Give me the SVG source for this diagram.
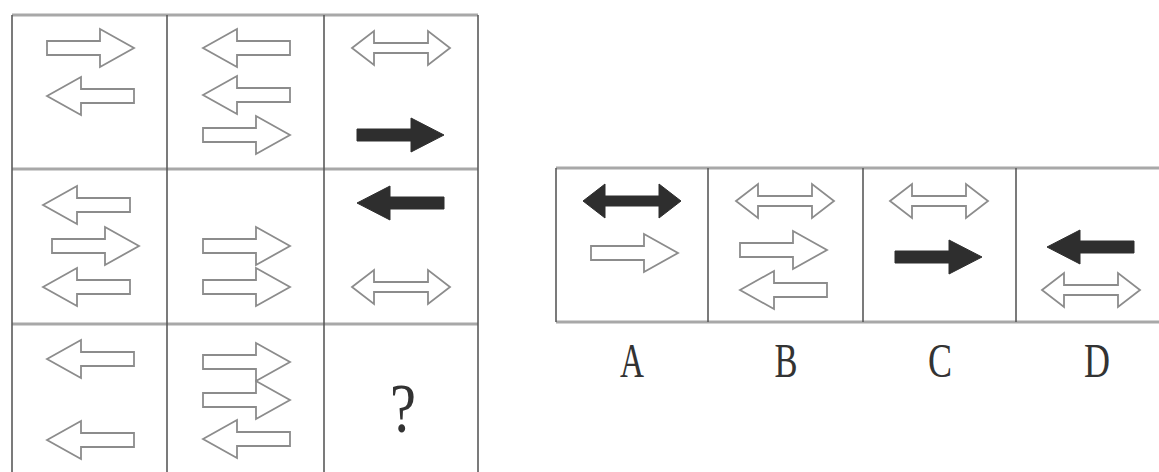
<svg xmlns="http://www.w3.org/2000/svg" xmlns:xlink="http://www.w3.org/1999/xlink" width="1159" height="472" viewBox="0 0 1159 472">
<style>
.ho{fill:#ffffff;stroke:#8c8c8c;stroke-width:1.8;stroke-linejoin:miter}
.bk{fill:#2e2e2e;stroke:#2e2e2e;stroke-width:1}
.vl{stroke:#5a5a5a;stroke-width:1.6;fill:none}
.hl{stroke:#a8a8a8;stroke-width:3;fill:none}
.lbl{font-family:"Liberation Serif","Times New Roman",serif;fill:#333;text-anchor:middle}
</style>
<defs>
<path id="r" d="M0,-7 H53 V-19 L87,0 L53,19 V7 H0 Z"/>
<path id="l" d="M0,0 L34,-19 V-7 H87 V7 H34 V19 Z"/>
<path id="rb" d="M0,-6 H54 V-17 L87,0 L54,17 V6 H0 Z"/>
<path id="lb" d="M0,0 L33,-17 V-6 H87 V6 H33 V17 Z"/>
<path id="d" d="M0,0 L22,-17 V-5 H76 V-17 L98,0 L76,17 V5 H22 V17 Z"/>
</defs>
<rect width="1159" height="472" fill="#ffffff"/>
<g id="grid">
<line class="hl" x1="12" y1="15" x2="478" y2="15"/>
<line class="hl" x1="12" y1="169" x2="478" y2="169"/>
<line class="hl" x1="12" y1="324" x2="478" y2="324"/>
<line class="vl" x1="12" y1="15" x2="12" y2="472"/>
<line class="vl" x1="167" y1="15" x2="167" y2="472"/>
<line class="vl" x1="324" y1="15" x2="324" y2="472"/>
<line class="vl" x1="478" y1="15" x2="478" y2="472"/>
</g>
<g id="cell-0-0">
<use href="#r" class="ho" transform="translate(47,48)"/>
<use href="#l" class="ho" transform="translate(47,96)"/>
</g>
<g id="cell-0-1">
<use href="#l" class="ho" transform="translate(203,48)"/>
<use href="#l" class="ho" transform="translate(203,95)"/>
<use href="#r" class="ho" transform="translate(203,135)"/>
</g>
<g id="cell-0-2">
<use href="#d" class="ho" transform="translate(352,48)"/>
<use href="#rb" class="bk" transform="translate(357,135)"/>
</g>
<g id="cell-1-0">
<use href="#l" class="ho" transform="translate(43,205)"/>
<use href="#r" class="ho" transform="translate(52,246)"/>
<use href="#l" class="ho" transform="translate(43,287)"/>
</g>
<g id="cell-1-1">
<use href="#r" class="ho" transform="translate(203,246)"/>
<use href="#r" class="ho" transform="translate(203,287)"/>
</g>
<g id="cell-1-2">
<use href="#lb" class="bk" transform="translate(357,203)"/>
<use href="#d" class="ho" transform="translate(352,287)"/>
</g>
<g id="cell-2-0">
<use href="#l" class="ho" transform="translate(47,359)"/>
<use href="#l" class="ho" transform="translate(47,440)"/>
</g>
<g id="cell-2-1">
<use href="#r" class="ho" transform="translate(203,362)"/>
<use href="#r" class="ho" transform="translate(203,400)"/>
<use href="#l" class="ho" transform="translate(203,439)"/>
</g>
<g id="cell-2-2">
<text class="lbl" x="403" y="432" font-size="70" textLength="26" lengthAdjust="spacingAndGlyphs">?</text>
</g>
<g id="options-frame">
<line class="hl" x1="556" y1="168" x2="1159" y2="168"/>
<line class="hl" x1="556" y1="322" x2="1159" y2="322"/>
<line class="vl" x1="556" y1="168" x2="556" y2="322"/>
<line class="vl" x1="708" y1="168" x2="708" y2="322"/>
<line class="vl" x1="863" y1="168" x2="863" y2="322"/>
<line class="vl" x1="1016" y1="168" x2="1016" y2="322"/>
</g>
<g id="option-A">
<use href="#d" class="bk" transform="translate(583,201)"/>
<use href="#r" class="ho" transform="translate(591,253)"/>
<text class="lbl" x="632" y="377" font-size="48" textLength="24" lengthAdjust="spacingAndGlyphs">A</text>
</g>
<g id="option-B">
<use href="#d" class="ho" transform="translate(736,201)"/>
<use href="#r" class="ho" transform="translate(740,250)"/>
<use href="#l" class="ho" transform="translate(740,290)"/>
<text class="lbl" x="786" y="377" font-size="48" textLength="23" lengthAdjust="spacingAndGlyphs">B</text>
</g>
<g id="option-C">
<use href="#d" class="ho" transform="translate(890,201)"/>
<use href="#rb" class="bk" transform="translate(895,257)"/>
<text class="lbl" x="940" y="377" font-size="48" textLength="24" lengthAdjust="spacingAndGlyphs">C</text>
</g>
<g id="option-D">
<use href="#lb" class="bk" transform="translate(1047,247)"/>
<use href="#d" class="ho" transform="translate(1042,290)"/>
<text class="lbl" x="1097" y="377" font-size="48" textLength="26" lengthAdjust="spacingAndGlyphs">D</text>
</g>
</svg>
